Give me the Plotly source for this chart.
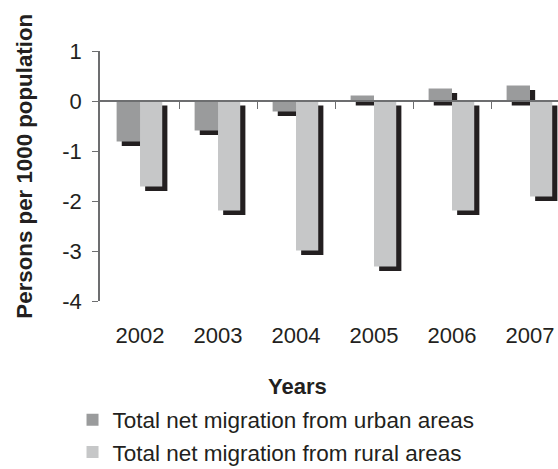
import plotly.graph_objects as go

years = ["2002", "2003", "2004", "2005", "2006", "2007"]
urban = [-0.81, -0.59, -0.21, 0.11, 0.25, 0.31]
rural = [-1.71, -2.19, -2.99, -3.31, -2.19, -1.91]
series_names = ["Total net migration from urban areas", "Total net migration from rural areas"]
y_ticks = [1, 0, -1, -2, -3, -4]
y_tick_labels = ["1", "0", "-1", "-2", "-3", "-4"]

FONT = "Liberation Sans, Arial, sans-serif"
TXT = "#231f20"
SHADOW = "#231f20"
AX = "#6d6e70"

W_U, W_R = 0.30, 0.285
DX, DY = 0.066, 0.09

fig = go.Figure()
# urban shadow
fig.add_trace(go.Bar(x=years, y=urban, base=[-DY] * len(years), width=W_U, offset=-W_U + DX,
                     marker=dict(color=SHADOW, line=dict(width=0)), showlegend=False, hoverinfo="skip"))
fig.add_trace(go.Bar(x=years, y=urban, width=W_U, offset=-W_U, name=series_names[0], legendgroup="u",
                     marker=dict(color="#9a9b9c", line=dict(width=0))))
fig.add_trace(go.Bar(x=years, y=rural, base=[-DY] * len(years), width=W_R, offset=DX,
                     marker=dict(color=SHADOW, line=dict(width=0)), showlegend=False, hoverinfo="skip"))
fig.add_trace(go.Bar(x=years, y=rural, width=W_R, offset=0, name=series_names[1], legendgroup="r",
                     marker=dict(color="#c6c7c8", line=dict(width=0))))

n = len(years)
x_lo, x_hi = -0.513, 5.359

fig.update_layout(
    width=558, height=469,
    margin=dict(l=100, r=0, t=51, b=168, autoexpand=False),
    barmode="overlay",
    plot_bgcolor="white", paper_bgcolor="white",
    font=dict(family=FONT, size=22, color=TXT),
    showlegend=True,
    legend=dict(x=-0.06, xanchor="left", y=-0.39, yanchor="top", orientation="v",
                font=dict(size=22.5, color=TXT), tracegroupgap=0, bgcolor="rgba(0,0,0,0)",
                itemwidth=30),
    xaxis=dict(type="category", range=[x_lo, x_hi], showline=False, ticks="", showgrid=False,
               zeroline=False, tickfont=dict(size=22, color=TXT), ticklabelstandoff=19),
    xaxis2=dict(overlaying="x", anchor="free", position=0.8, range=[x_lo, x_hi],
                tickvals=[i + 0.5 for i in range(n - 1)], showticklabels=False,
                ticks="outside", ticklen=7, tickwidth=1.2, tickcolor=AX,
                showline=True, linecolor=AX, linewidth=1.5, showgrid=False, zeroline=False),
    yaxis=dict(range=[-4, 1], tickvals=y_ticks, ticktext=y_tick_labels, ticks="outside", ticklen=6,
               tickwidth=1.2, tickcolor=AX, showline=True, linecolor=AX, linewidth=1.5,
               showgrid=False, zeroline=False, tickfont=dict(size=22, color=TXT),
               ticklabelstandoff=6),
    annotations=[
        dict(text="<b>Persons per 1000 population</b>", textangle=-90, xref="paper", yref="paper",
             x=-0.164, y=0.541, xanchor="center", yanchor="middle", showarrow=False,
             font=dict(size=22.3, color=TXT)),
        dict(text="<b>Years</b>", xref="paper", yref="paper", x=0.432, y=-0.344,
             xanchor="center", yanchor="middle", showarrow=False, font=dict(size=22, color=TXT)),
    ],
)
# invisible trace to bind xaxis2
fig.add_trace(go.Scatter(x=[x_lo], y=[0], xaxis="x2", mode="markers", marker=dict(opacity=0),
                         showlegend=False, hoverinfo="skip"))

fig.write_html("out.html")
